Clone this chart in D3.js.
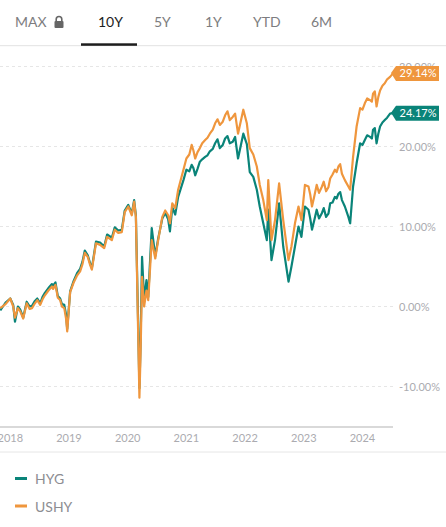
<meta charset="utf-8">
<script src="https://d3js.org/d3.v7.min.js"></script>

<style>
  body { margin: 0; background: #fff; }
  svg { font-family: Lato, "Open Sans", sans-serif; }
</style>

<svg id="vis"></svg>

<script>
  var width = 446
  var height = 527

  // data (cumulative return, %), grouped by year
  var dates = [
    2017.83, 2017.92, 2018.00, 2018.05, 2018.08, 2018.13, 2018.17, 2018.22, 2018.28, 2018.33, 2018.37, 2018.42, 2018.46, 2018.51, 2018.55, 2018.59, 2018.65, 2018.71, 2018.73, 2018.77, 2018.81, 2018.85, 2018.88, 2018.92, 2018.95, 2018.97,
    2019.02, 2019.08, 2019.14, 2019.19, 2019.23, 2019.27, 2019.32, 2019.36, 2019.39, 2019.46, 2019.53, 2019.60, 2019.65, 2019.73, 2019.78, 2019.84, 2019.90, 2019.95,
    2020.01, 2020.07, 2020.11, 2020.14, 2020.175, 2020.20, 2020.22, 2020.245, 2020.28, 2020.32, 2020.35, 2020.41, 2020.47, 2020.52, 2020.59, 2020.64, 2020.69, 2020.72, 2020.76, 2020.81, 2020.86, 2020.95,
    2021.00, 2021.05, 2021.09, 2021.12, 2021.15, 2021.19, 2021.23, 2021.27, 2021.32, 2021.36, 2021.40, 2021.45, 2021.49, 2021.53, 2021.57, 2021.62, 2021.66, 2021.70, 2021.74, 2021.79, 2021.83, 2021.88, 2021.97,
    2022.03, 2022.08, 2022.14, 2022.20, 2022.25, 2022.31, 2022.37, 2022.395, 2022.45, 2022.51, 2022.58, 2022.65, 2022.74, 2022.79, 2022.85, 2022.91, 2022.96,
    2023.02, 2023.08, 2023.11, 2023.14, 2023.18, 2023.22, 2023.26, 2023.31, 2023.34, 2023.38, 2023.42, 2023.45, 2023.49, 2023.53, 2023.56, 2023.59, 2023.62, 2023.65, 2023.70, 2023.76, 2023.79, 2023.84, 2023.90, 2023.96,
    2024.00, 2024.04, 2024.08, 2024.13, 2024.16, 2024.18, 2024.21, 2024.24, 2024.27, 2024.30, 2024.34, 2024.38, 2024.42, 2024.47, 2024.52]

  var ushy = [
    -0.2, 0.3, 1.0, 0.0, -1.4, -0.2, -0.6, -1.5, 0.4, -0.3, -0.2, 0.4, 0.8, 0.2, 0.9, 1.4, 2.0, 2.5, 2.2, 2.7, 1.1, 0.8, 0.0, -0.2, -1.5, -3.1,
    1.8, 3.0, 3.9, 4.4, 5.3, 6.7, 6.2, 5.2, 4.6, 7.9, 7.7, 7.3, 8.7, 8.3, 9.6, 9.2, 9.3, 11.8,
    12.5, 11.4, 13.1, 11.2, -2.0, -11.4, -5.8, 3.7, 0.0, 2.0, 0.8, 8.3, 6.0, 8.3, 11.2, 12.0, 11.4, 10.4, 12.9, 12.3, 14.6, 17.1,
    18.5, 19.0, 20.2, 19.5, 18.5, 19.3, 19.8, 20.4, 20.8, 21.1, 21.6, 22.1, 22.9, 23.4, 22.7, 23.1, 23.9, 24.4, 23.3, 23.7, 24.1, 21.6, 24.6,
    22.9, 19.8, 19.0, 17.5, 15.2, 13.3, 10.8, 15.8, 8.3, 10.8, 15.4, 10.8, 5.8, 7.5, 10.4, 12.5, 10.8,
    15.2, 15.0, 14.0, 12.5, 13.8, 15.2, 14.2, 15.0, 15.6, 14.4, 14.9, 16.0, 16.5, 17.1, 16.8, 17.5, 17.8, 16.6, 15.8, 15.0, 14.6, 18.7, 22.5, 24.8,
    24.6, 25.4, 26.0, 25.8, 25.6, 26.6, 26.9, 25.0, 26.2, 27.0, 27.6, 27.9, 28.4, 28.7, 29.14]

  var hyg = [
    -0.5, 0.5, 1.0, 0.2, -1.9, 0.0, -0.4, -1.4, 0.6, 0.0, 0.1, 0.7, 1.0, 0.4, 1.2, 1.7, 2.3, 2.8, 2.6, 3.0, 1.3, 1.0, 0.3, 0.2, -1.0, -2.8,
    1.9, 3.2, 4.2, 4.7, 5.6, 7.0, 6.4, 5.4, 4.8, 8.1, 8.0, 7.5, 9.0, 8.6, 9.9, 9.5, 9.6, 12.0,
    12.7, 11.6, 13.3, 11.4, -1.0, -10.2, -4.5, 6.2, 0.8, 3.3, 1.2, 9.8, 6.3, 8.5, 11.0, 11.7, 10.9, 9.4, 12.4, 11.5, 13.7, 15.8,
    17.1, 16.9, 17.7, 17.3, 16.4, 17.2, 18.1, 18.4, 18.7, 18.9, 19.4, 19.7, 20.4, 20.9, 19.8, 20.2, 21.0, 21.3, 20.4, 20.6, 21.2, 18.5, 21.6,
    20.3, 16.8, 16.2, 14.6, 12.5, 10.4, 8.3, 12.1, 5.8, 8.3, 12.9, 7.5, 3.1, 5.0, 7.5, 10.0, 8.7,
    12.5, 12.1, 11.0, 9.6, 10.8, 12.1, 11.0, 11.7, 12.3, 11.2, 11.6, 12.9, 13.0, 13.7, 13.5, 14.1, 14.3, 13.3, 12.5, 11.2, 10.4, 15.0, 17.9, 20.4,
    20.2, 20.8, 21.4, 21.2, 21.0, 22.1, 22.3, 20.4, 21.6, 22.5, 23.0, 23.3, 23.6, 24.1, 24.17]

  var tabs = ['MAX', '10Y', '5Y', '1Y', 'YTD', '6M']
  var yTicks = [-10, 0, 10, 20, 30]
  var xTicks = [2018, 2019, 2020, 2021, 2022, 2023, 2024]

  var series = [
    {name: 'HYG', values: hyg, color: '#0a8479'},
    {name: 'USHY', values: ushy, color: '#ef963d'}
  ]

  var pct = function (d) { return d.toFixed(2) + '%' }

  var svg = d3.select('#vis')
    .attr('width', width)
    .attr('height', height)

  // tabs
  var tabX = [15, 98, 154, 205, 253, 311]
  svg.selectAll('.tab')
    .data(tabs)
    .enter().append('text')
      .attr('x', function (d, i) { return tabX[i] })
      .attr('y', 27)
      .attr('font-size', 14)
      .attr('fill', function (d) { return d == '10Y' ? '#1d1d1d' : '#7d7d80' })
      .text(function (d) { return d })

  // lock icon
  var lock = svg.append('g').attr('transform', 'translate(54,16)')
  lock.append('path')
    .attr('d', 'M2.2,5 V3.3 A2.8,2.8 0 0 1 7.8,3.3 V5')
    .attr('fill', 'none')
    .attr('stroke', '#666')
    .attr('stroke-width', 1.6)
  lock.append('rect')
    .attr('x', 0.5).attr('y', 5).attr('width', 9).attr('height', 7).attr('rx', 1)
    .attr('fill', '#666')

  svg.append('line')
    .attr('x1', 0).attr('x2', width).attr('y1', 45.7).attr('y2', 45.7)
    .attr('stroke', '#e2e2e2').attr('stroke-width', 1)
  svg.append('rect')
    .attr('x', 81).attr('y', 43.3).attr('width', 56).attr('height', 2.5)
    .attr('fill', '#1d1d1d')

  // scales
  var x = d3.scaleLinear()
    .domain([2017.825, 2024.52])
    .range([0, 393])

  var y = d3.scaleLinear()
    .domain([-10, 30])
    .range([386.5, 66.5])

  // grid
  svg.selectAll('.grid')
    .data(yTicks)
    .enter().append('line')
      .attr('x1', 0).attr('x2', 393)
      .attr('y1', function (d) { return y(d) })
      .attr('y2', function (d) { return y(d) })
      .attr('stroke', '#e6e6e6')
      .attr('stroke-dasharray', '3,3')

  svg.selectAll('.ylab')
    .data(yTicks)
    .enter().append('text')
      .attr('x', 399)
      .attr('y', function (d) { return y(d) + 4 })
      .attr('font-size', 11)
      .attr('fill', '#ababb0')
      .text(pct)

  // x axis
  svg.append('line')
    .attr('x1', 0).attr('x2', 393).attr('y1', 427).attr('y2', 427)
    .attr('stroke', '#d9d9d9').attr('stroke-width', 2)

  svg.selectAll('.xlab')
    .data(xTicks)
    .enter().append('text')
      .attr('x', function (d) { return x(d) })
      .attr('y', 441.5)
      .attr('text-anchor', 'middle')
      .attr('font-size', 11)
      .attr('fill', '#ababb0')
      .text(function (d) { return d })

  svg.append('line')
    .attr('x1', 0).attr('x2', width).attr('y1', 452).attr('y2', 452)
    .attr('stroke', '#e6e6e6').attr('stroke-width', 1)

  // lines
  var line = d3.line()
    .x(function (d, i) { return x(dates[i]) })
    .y(function (d) { return y(d) })

  svg.selectAll('.series')
    .data(series)
    .enter().append('path')
      .attr('d', function (d) { return line(d.values) })
      .attr('fill', 'none')
      .attr('stroke', function (d) { return d.color })
      .attr('stroke-width', 2.2)
      .attr('stroke-linejoin', 'round')

  // end labels
  var badge = svg.selectAll('.badge')
    .data(series)
    .enter().append('g')
      .attr('transform', function (d) {
        return 'translate(391,' + y(d.values[d.values.length - 1]) + ')'
      })
  badge.append('path')
    .attr('d', 'M0,-0.5 L5,-7.5 H48 V7.5 H5 Z')
    .attr('fill', function (d) { return d.color })
  badge.append('text')
    .attr('x', 27)
    .attr('y', 4)
    .attr('text-anchor', 'middle')
    .attr('font-size', 11)
    .attr('fill', '#fff')
    .text(function (d) { return pct(d.values[d.values.length - 1]) })

  // legend
  var legend = svg.selectAll('.legend')
    .data(series)
    .enter().append('g')
      .attr('transform', function (d, i) { return 'translate(15,' + (478.5 + i * 27.5) + ')' })
  legend.append('rect')
    .attr('x', 0).attr('y', -1.5).attr('width', 12).attr('height', 3)
    .attr('fill', function (d) { return d.color })
  legend.append('text')
    .attr('x', 20)
    .attr('y', 5.5)
    .attr('font-size', 14)
    .attr('fill', '#8d8d92')
    .text(function (d) { return d.name })
</script>
